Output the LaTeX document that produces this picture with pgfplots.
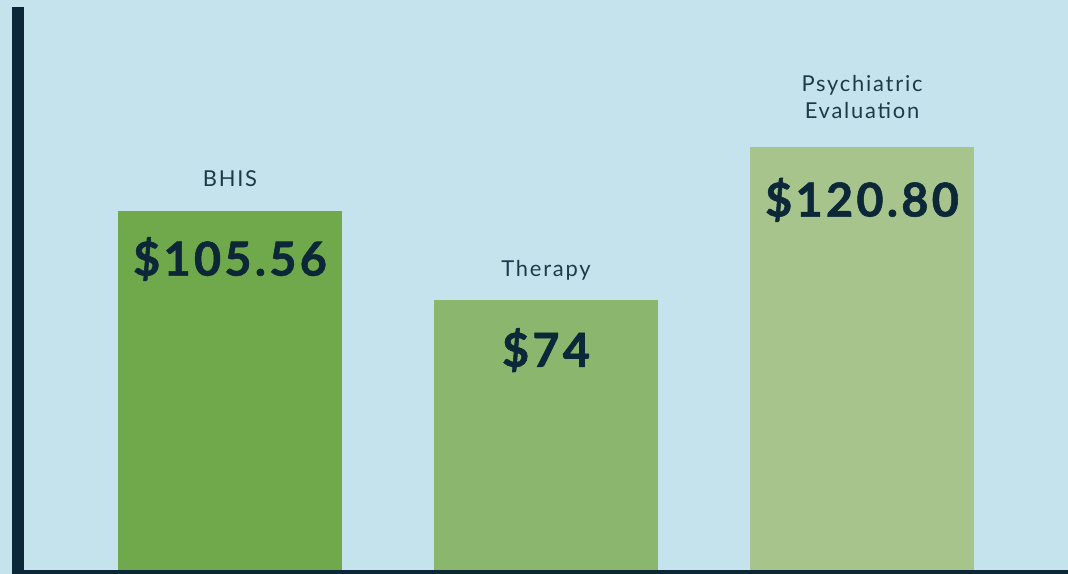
\documentclass[border=0pt]{standalone}
\usepackage{pgfplots}
\pgfplotsset{compat=1.18}
\usepackage{fontspec}
\setmainfont{Lato}
\newfontfamily\catfont[LetterSpace=8]{Lato}
\newfontfamily\valfont[LetterSpace=7,FakeBold=1.2]{Lato Bold}
\definecolor{bg}{HTML}{C5E3ED}
\definecolor{navy}{HTML}{0B2738}
\definecolor{txt}{HTML}{1E3A4A}
\definecolor{gA}{HTML}{70A84C}
\definecolor{gB}{HTML}{8BB66E}
\definecolor{gC}{HTML}{A6C48C}
\begin{document}
\begin{tikzpicture}[x=1bp,y=1bp]
\fill[bg] (0,0) rectangle (1068,574);
\useasboundingbox (0,0) rectangle (1068,574);
\begin{axis}[
  at={(18bp,2bp)}, anchor=south west,
  scale only axis, width=1050bp, height=565bp,
  xmin=-0.6709, xmax=2.6519, ymin=0, ymax=165.2,
  axis x line=bottom, axis y line=left,
  x axis line style={-, line width=4bp, navy},
  y axis line style={-, line width=12bp, navy, shorten <=-2bp},
  xtick=\empty, ytick=\empty,
  ybar, bar width=224bp, bar shift=0pt,
  axis on top, clip=false,
]
\addplot[fill=gA, draw=none] coordinates {(0,105.56)};
\addplot[fill=gB, draw=none] coordinates {(1,79.5)};
\addplot[fill=gC, draw=none] coordinates {(2,124.3)};
\node[navy, font=\valfont\fontsize{47}{50}\selectfont, yshift=-48bp] at (axis cs:0,105.56) {\$105.56};
\node[navy, font=\valfont\fontsize{47}{50}\selectfont, yshift=-50bp] at (axis cs:1,79.5) {\$74};
\node[navy, font=\valfont\fontsize{47}{50}\selectfont, yshift=-53bp] at (axis cs:2,124.3) {\$120.80};
\node[txt, font=\catfont\fontsize{22}{26}\selectfont, anchor=base, inner sep=0pt, yshift=24bp] at (axis cs:0,105.56) {BHIS};
\node[txt, font=\catfont\fontsize{22}{26}\selectfont, anchor=base, inner sep=0pt, yshift=24bp] at (axis cs:1,79.5) {Therapy};
\node[txt, font=\catfont\fontsize{22}{26}\selectfont, anchor=base, inner sep=0pt, yshift=28bp] at (axis cs:2,124.3) {Evaluation};
\node[txt, font=\catfont\fontsize{22}{26}\selectfont, anchor=base, inner sep=0pt, yshift=55bp] at (axis cs:2,124.3) {Psychiatric};
\end{axis}
\end{tikzpicture}
\end{document}
